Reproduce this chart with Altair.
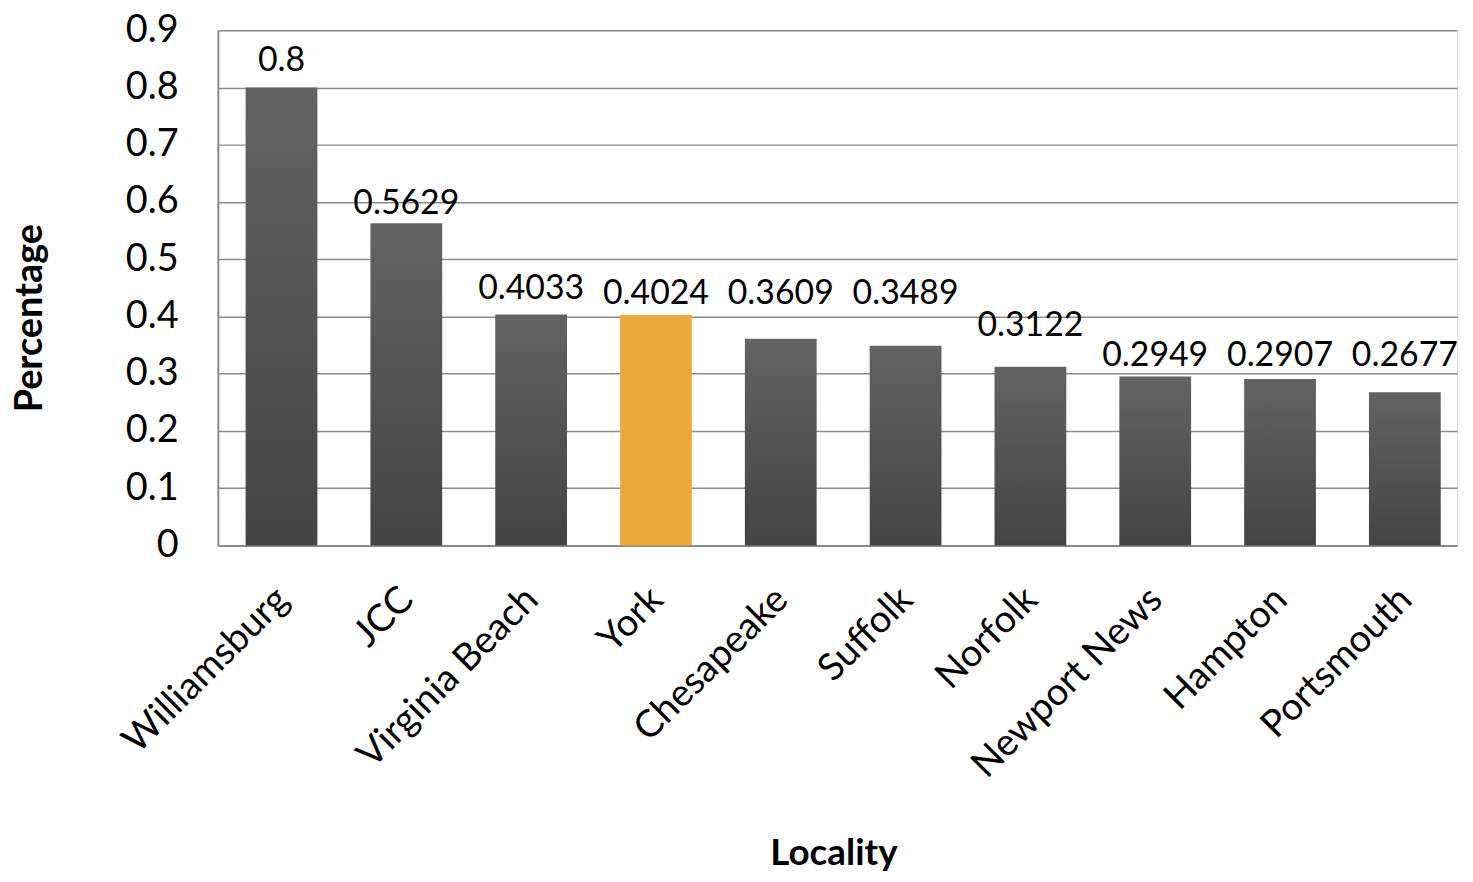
import altair as alt
import pandas as pd

localities = ["Williamsburg", "JCC", "Virginia Beach", "York", "Chesapeake",
              "Suffolk", "Norfolk", "Newport News", "Hampton", "Portsmouth"]
values = [0.8, 0.5629, 0.4033, 0.4024, 0.3609, 0.3489, 0.3122, 0.2949, 0.2907, 0.2677]
labels = ["0.8", "0.5629", "0.4033", "0.4024", "0.3609", "0.3489", "0.3122", "0.2949", "0.2907", "0.2677"]
# where each data label's baseline sits, in axis units (labels were nudged in the original)
label_anchor = [0.829, 0.579, 0.430, 0.421, 0.421, 0.421, 0.365, 0.313, 0.313, 0.313]
highlight = "York"

df = pd.DataFrame({"Locality": localities, "Percentage": values, "label": labels,
                   "anchor": label_anchor})
df["hl"] = df["Locality"] == highlight

FONT = "Lato"
W, H = 1246, 518

xscale = alt.Scale(paddingInner=0.425, paddingOuter=0.1765, align=0.63)
x = alt.X("Locality:N", sort=localities, title="Locality", scale=xscale,
          axis=alt.Axis(labelAngle=-45, labelFontSize=38, labelFont=FONT, labelColor="#000000",
                        labelPadding=35, labelOffset=-12, labelLimit=0, ticks=False,
                        domainColor="#8c8c8c", domainWidth=2,
                        titleFontSize=37, titleFont=FONT, titleFontWeight="bold", titleColor="#000000",
                        titleX=619, titleY=310, titleBaseline="middle"))
y = alt.Y("Percentage:Q", title="Percentage",
          scale=alt.Scale(domain=[0, 0.9], nice=False),
          axis=alt.Axis(values=[0, 0.1, 0.2, 0.3, 0.4, 0.5, 0.6, 0.7, 0.8, 0.9], format="~g",
                        labelFontSize=38, labelFont=FONT, labelColor="#000000", labelPadding=40,
                        ticks=False, domainColor="#8c8c8c", domainWidth=2,
                        grid=True, gridColor="#8c8c8c", gridWidth=1.5,
                        titleFontSize=38, titleFont=FONT, titleFontWeight="bold", titleColor="#000000",
                        titleX=-188, titleY=289, titleBaseline="middle", titleAngle=-90))

base = alt.Chart(df)

grad = alt.Gradient(gradient="linear", x1=0, y1=0, x2=0, y2=1,
                    stops=[alt.GradientStop(offset=0, color="#636363"),
                           alt.GradientStop(offset=1, color="#444444")])

bars_grey = base.transform_filter("!datum.hl").mark_bar(color=grad).encode(x=x, y=y)
bars_hl = base.transform_filter("datum.hl").mark_bar(color="#EBA83A").encode(x=x, y=y)
text = base.mark_text(baseline="alphabetic", fontSize=34, font=FONT, color="#000000").encode(
    x=alt.X("Locality:N", sort=localities, scale=xscale), y=alt.Y("anchor:Q"), text="label:N")

chart = alt.layer(bars_grey, bars_hl, text).properties(
    width=W, height=H,
    autosize=alt.AutoSizeParams(type="none"),
    padding={"left": 211, "top": 20, "right": 8, "bottom": 328},
).configure_view(stroke=None).configure(background="#ffffff")

chart.save("out.html", embed_options={"renderer": "svg", "actions": False})
